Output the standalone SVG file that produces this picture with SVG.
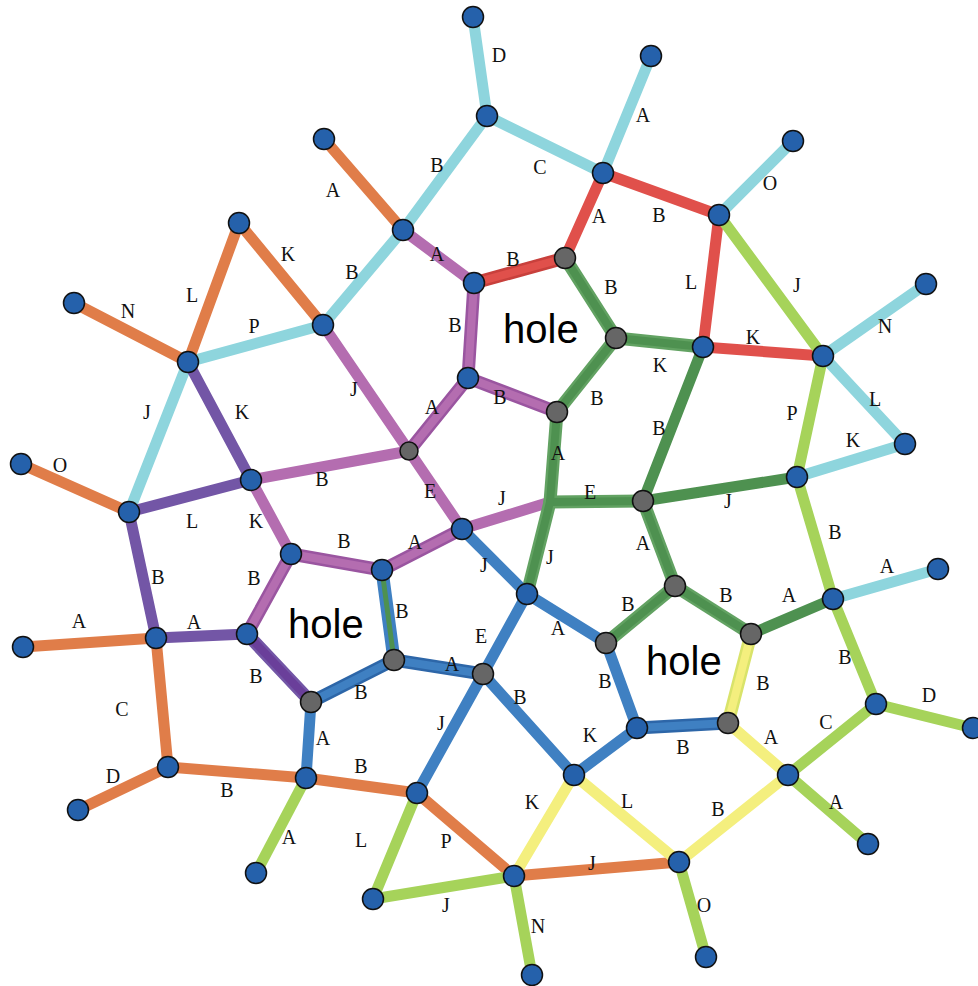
<svg xmlns="http://www.w3.org/2000/svg" width="978" height="986" viewBox="0 0 978 986">
<style>
  .e { fill: none; stroke-width: 11; stroke-linecap: round; stroke-linejoin: round; }
  .cy { stroke: #8ed5dd; }
  .or { stroke: #e07d49; }
  .rd { stroke: #e0504b; }
  .pk { stroke: #b46db0; }
  .dp { stroke: #7356a6; }
  .gd { stroke: #4e9150; }
  .gl { stroke: #a6d35a; }
  .ye { stroke: #f4ef7e; }
  .bl { stroke: #3f80c2; }
  .rim { stroke-width: 13; }
  .core { stroke-width: 8; }
  .n { fill: #2561ab; stroke: #111; stroke-width: 1.5; }
  .g { fill: #666; stroke: #111; stroke-width: 1.5; }
  .lb { font-family: "Liberation Serif", "Times New Roman", serif; font-size: 20px; fill: #111; text-anchor: middle; }
  .hole { font-family: "Liberation Sans", Arial, sans-serif; font-size: 40px; fill: #000; }
</style>

<g id="connectors">
  <!-- cyan -->
  <line class="e cy" x1="473" y1="17" x2="487" y2="116"/>
  <line class="e cy" x1="487" y1="116" x2="603" y2="173"/>
  <line class="e cy" x1="487" y1="116" x2="403" y2="230"/>
  <line class="e cy" x1="603" y1="173" x2="651" y2="56"/>
  <line class="e cy" x1="403" y1="230" x2="323" y2="325"/>
  <line class="e cy" x1="323" y1="325" x2="188" y2="362"/>
  <line class="e cy" x1="188" y1="362" x2="129" y2="512"/>
  <line class="e cy" x1="719" y1="215" x2="793" y2="141"/>
  <line class="e cy" x1="823" y1="356" x2="926" y2="284"/>
  <line class="e cy" x1="823" y1="356" x2="905" y2="444"/>
  <line class="e cy" x1="797" y1="477" x2="905" y2="444"/>
  <line class="e cy" x1="833" y1="599" x2="938" y2="569"/>

  <!-- orange -->
  <line class="e or" x1="324" y1="139" x2="403" y2="230"/>
  <line class="e or" x1="239" y1="223" x2="323" y2="325"/>
  <line class="e or" x1="239" y1="223" x2="188" y2="362"/>
  <line class="e or" x1="74" y1="303" x2="188" y2="362"/>
  <line class="e or" x1="21" y1="464" x2="129" y2="512"/>
  <line class="e or" x1="23" y1="647" x2="156" y2="638"/>
  <line class="e or" x1="156" y1="638" x2="168" y2="767"/>
  <line class="e or" x1="168" y1="767" x2="78" y2="810"/>
  <line class="e or" x1="168" y1="767" x2="306" y2="778"/>
  <line class="e or" x1="306" y1="778" x2="417" y2="793"/>
  <line class="e or" x1="417" y1="793" x2="514" y2="876"/>
  <line class="e or" x1="514" y1="876" x2="679" y2="862"/>

  <!-- red -->
  <line class="e rd" x1="603" y1="173" x2="565" y2="258"/>
  <line class="e rd" x1="603" y1="173" x2="719" y2="215"/>
  <line class="e rim" x1="474" y1="283" x2="565" y2="258" style="stroke:#c8403c"/>
  <line class="e rd core" x1="474" y1="283" x2="565" y2="258"/>
  <line class="e rd" x1="719" y1="215" x2="703" y2="347"/>
  <line class="e rd" x1="703" y1="347" x2="823" y2="356"/>

  <!-- light purple -->
  <line class="e pk" x1="403" y1="230" x2="474" y2="283"/>
  <line class="e pk" x1="323" y1="325" x2="409" y2="451"/>
  <line class="e pk" x1="409" y1="451" x2="251" y2="480"/>
  <line class="e pk" x1="409" y1="451" x2="462" y2="529"/>
  <line class="e pk" x1="462" y1="529" x2="550" y2="502"/>
  <line class="e pk" x1="251" y1="480" x2="291" y2="554"/>
  <g style="stroke:#9a55a0">
    <line class="e rim" x1="474" y1="283" x2="468" y2="378"/>
    <line class="e rim" x1="468" y1="378" x2="557" y2="412"/>
    <line class="e rim" x1="468" y1="378" x2="409" y2="451"/>
    <line class="e rim" x1="291" y1="554" x2="382" y2="570"/>
    <line class="e rim" x1="382" y1="570" x2="462" y2="529"/>
    <line class="e rim" x1="291" y1="554" x2="247" y2="634"/>
  </g>
  <line class="e pk core" x1="474" y1="283" x2="468" y2="378"/>
  <line class="e pk core" x1="468" y1="378" x2="557" y2="412"/>
  <line class="e pk core" x1="468" y1="378" x2="409" y2="451"/>
  <line class="e pk core" x1="291" y1="554" x2="382" y2="570"/>
  <line class="e pk core" x1="382" y1="570" x2="462" y2="529"/>
  <line class="e pk core" x1="291" y1="554" x2="247" y2="634"/>

  <!-- dark purple -->
  <line class="e dp" x1="188" y1="362" x2="251" y2="480"/>
  <line class="e dp" x1="129" y1="512" x2="251" y2="480"/>
  <line class="e dp" x1="129" y1="512" x2="156" y2="638"/>
  <line class="e dp" x1="156" y1="638" x2="247" y2="634"/>
  <line class="e dp rim" x1="247" y1="634" x2="311" y2="702"/>
  <line class="e core" x1="247" y1="634" x2="311" y2="702" style="stroke:#6a3f9a"/>

  <!-- dark green -->
  <g style="stroke:#62a262">
    <line class="e rim" x1="565" y1="258" x2="616" y2="338"/>
    <line class="e rim" x1="616" y1="338" x2="703" y2="347"/>
    <line class="e rim" x1="616" y1="338" x2="557" y2="412"/>
    <line class="e rim" x1="557" y1="412" x2="550" y2="502"/>
    <line class="e rim" x1="550" y1="502" x2="643" y2="501"/>
    <line class="e rim" x1="550" y1="502" x2="527" y2="594"/>
    <line class="e rim" x1="643" y1="501" x2="675" y2="586"/>
    <line class="e rim" x1="675" y1="586" x2="606" y2="643"/>
    <line class="e rim" x1="675" y1="586" x2="751" y2="634"/>
  </g>
  <line class="e gd core" x1="565" y1="258" x2="616" y2="338"/>
  <line class="e gd core" x1="616" y1="338" x2="703" y2="347"/>
  <line class="e gd core" x1="616" y1="338" x2="557" y2="412"/>
  <line class="e gd core" x1="557" y1="412" x2="550" y2="502"/>
  <line class="e gd core" x1="550" y1="502" x2="643" y2="501"/>
  <line class="e gd core" x1="550" y1="502" x2="527" y2="594"/>
  <line class="e gd core" x1="643" y1="501" x2="675" y2="586"/>
  <line class="e gd core" x1="675" y1="586" x2="606" y2="643"/>
  <line class="e gd core" x1="675" y1="586" x2="751" y2="634"/>
  <line class="e gd" x1="703" y1="347" x2="643" y2="501"/>
  <line class="e gd" x1="643" y1="501" x2="797" y2="477"/>
  <line class="e gd" x1="751" y1="634" x2="833" y2="599"/>
  <line class="e bl rim" x1="382" y1="570" x2="394" y2="660"/>
  <line class="e gd" x1="382" y1="570" x2="394" y2="660" style="stroke-width:5"/>

  <!-- light green -->
  <line class="e gl" x1="719" y1="215" x2="823" y2="356"/>
  <line class="e gl" x1="823" y1="356" x2="797" y2="477"/>
  <line class="e gl" x1="797" y1="477" x2="833" y2="599"/>
  <line class="e gl" x1="833" y1="599" x2="876" y2="704"/>
  <line class="e gl" x1="876" y1="704" x2="973" y2="728"/>
  <line class="e gl" x1="876" y1="704" x2="788" y2="775"/>
  <line class="e gl" x1="788" y1="775" x2="868" y2="844"/>
  <line class="e gl" x1="306" y1="778" x2="256" y2="873"/>
  <line class="e gl" x1="417" y1="793" x2="373" y2="899"/>
  <line class="e gl" x1="373" y1="899" x2="514" y2="876"/>
  <line class="e gl" x1="514" y1="876" x2="532" y2="975"/>
  <line class="e gl" x1="679" y1="862" x2="706" y2="957"/>

  <!-- yellow -->
  <line class="e rim" x1="751" y1="634" x2="728" y2="723" style="stroke:#d9e36a"/>
  <line class="e ye core" x1="751" y1="634" x2="728" y2="723"/>
  <line class="e ye" x1="728" y1="723" x2="788" y2="775"/>
  <line class="e ye" x1="788" y1="775" x2="679" y2="862"/>
  <line class="e ye" x1="574" y1="775" x2="679" y2="862"/>
  <line class="e ye" x1="574" y1="775" x2="514" y2="876"/>

  <!-- blue -->
  <line class="e bl" x1="462" y1="529" x2="527" y2="594"/>
  <line class="e bl" x1="527" y1="594" x2="606" y2="643"/>
  <line class="e bl" x1="606" y1="643" x2="637" y2="728"/>
  <line class="e bl" x1="527" y1="594" x2="483" y2="674"/>
  <line class="e bl" x1="311" y1="702" x2="306" y2="778"/>
  <line class="e bl" x1="483" y1="674" x2="417" y2="793"/>
  <line class="e bl" x1="483" y1="674" x2="574" y2="775"/>
  <line class="e bl" x1="574" y1="775" x2="637" y2="728"/>
  <g style="stroke:#2d66a8">
    <line class="e rim" x1="637" y1="728" x2="728" y2="723"/>
    <line class="e rim" x1="394" y1="660" x2="483" y2="674"/>
    <line class="e rim" x1="311" y1="702" x2="394" y2="660"/>
  </g>
  <line class="e bl core" x1="637" y1="728" x2="728" y2="723"/>
  <line class="e bl core" x1="394" y1="660" x2="483" y2="674"/>
  <line class="e bl core" x1="311" y1="702" x2="394" y2="660"/>
</g>

<g id="edge-labels">
  <text class="lb" x="499" y="62">D</text>
  <text class="lb" x="540" y="174">C</text>
  <text class="lb" x="437" y="172">B</text>
  <text class="lb" x="643" y="122">A</text>
  <text class="lb" x="352" y="279">B</text>
  <text class="lb" x="254" y="333">P</text>
  <text class="lb" x="147" y="419">J</text>
  <text class="lb" x="770" y="190">O</text>
  <text class="lb" x="885" y="333">N</text>
  <text class="lb" x="875" y="406">L</text>
  <text class="lb" x="853" y="447">K</text>
  <text class="lb" x="887" y="573">A</text>

  <text class="lb" x="333" y="197">A</text>
  <text class="lb" x="288" y="261">K</text>
  <text class="lb" x="192" y="302">L</text>
  <text class="lb" x="128" y="318">N</text>
  <text class="lb" x="60" y="472">O</text>
  <text class="lb" x="79" y="628">A</text>
  <text class="lb" x="122" y="716">C</text>
  <text class="lb" x="113" y="783">D</text>
  <text class="lb" x="227" y="797">B</text>
  <text class="lb" x="361" y="773">B</text>
  <text class="lb" x="446" y="848">P</text>
  <text class="lb" x="592" y="870">J</text>

  <text class="lb" x="599" y="223">A</text>
  <text class="lb" x="659" y="222">B</text>
  <text class="lb" x="513" y="266">B</text>
  <text class="lb" x="691" y="289">L</text>
  <text class="lb" x="753" y="344">K</text>

  <text class="lb" x="437" y="261">A</text>
  <text class="lb" x="455" y="332">B</text>
  <text class="lb" x="500" y="404">B</text>
  <text class="lb" x="432" y="414">A</text>
  <text class="lb" x="354" y="396">J</text>
  <text class="lb" x="322" y="486">B</text>
  <text class="lb" x="430" y="498">E</text>
  <text class="lb" x="502" y="505">J</text>
  <text class="lb" x="256" y="528">K</text>
  <text class="lb" x="344" y="548">B</text>
  <text class="lb" x="415" y="549">A</text>
  <text class="lb" x="254" y="585">B</text>

  <text class="lb" x="242" y="419">K</text>
  <text class="lb" x="192" y="528">L</text>
  <text class="lb" x="158" y="584">B</text>
  <text class="lb" x="194" y="629">A</text>
  <text class="lb" x="256" y="683">B</text>

  <text class="lb" x="611" y="294">B</text>
  <text class="lb" x="660" y="372">K</text>
  <text class="lb" x="597" y="405">B</text>
  <text class="lb" x="558" y="460">A</text>
  <text class="lb" x="590" y="499">E</text>
  <text class="lb" x="550" y="564">J</text>
  <text class="lb" x="659" y="435">B</text>
  <text class="lb" x="728" y="508">J</text>
  <text class="lb" x="643" y="550">A</text>
  <text class="lb" x="628" y="611">B</text>
  <text class="lb" x="726" y="602">B</text>
  <text class="lb" x="789" y="602">A</text>
  <text class="lb" x="402" y="618">B</text>

  <text class="lb" x="797" y="292">J</text>
  <text class="lb" x="792" y="420">P</text>
  <text class="lb" x="835" y="539">B</text>
  <text class="lb" x="845" y="664">B</text>
  <text class="lb" x="929" y="702">D</text>
  <text class="lb" x="826" y="729">C</text>
  <text class="lb" x="836" y="809">A</text>
  <text class="lb" x="289" y="844">A</text>
  <text class="lb" x="361" y="847">L</text>
  <text class="lb" x="446" y="912">J</text>
  <text class="lb" x="538" y="933">N</text>
  <text class="lb" x="704" y="912">O</text>

  <text class="lb" x="763" y="690">B</text>
  <text class="lb" x="771" y="744">A</text>
  <text class="lb" x="718" y="816">B</text>
  <text class="lb" x="627" y="808">L</text>
  <text class="lb" x="532" y="809">K</text>

  <text class="lb" x="484" y="572">J</text>
  <text class="lb" x="558" y="635">A</text>
  <text class="lb" x="605" y="688">B</text>
  <text class="lb" x="683" y="754">B</text>
  <text class="lb" x="481" y="643">E</text>
  <text class="lb" x="452" y="671">A</text>
  <text class="lb" x="361" y="699">B</text>
  <text class="lb" x="323" y="745">A</text>
  <text class="lb" x="441" y="730">J</text>
  <text class="lb" x="520" y="704">B</text>
  <text class="lb" x="590" y="742">K</text>
</g>

<g id="hole-labels">
  <text class="hole" x="503" y="343">hole</text>
  <text class="hole" x="288" y="638">hole</text>
  <text class="hole" x="646" y="675">hole</text>
</g>

<g id="nodes">
  <circle id="v1" class="n" cx="473" cy="17" r="10.5"/>
  <circle id="v2" class="n" cx="487" cy="116" r="10.5"/>
  <circle id="v3" class="n" cx="651" cy="56" r="10.5"/>
  <circle id="v4" class="n" cx="603" cy="173" r="10.5"/>
  <circle id="v5" class="n" cx="793" cy="141" r="10.5"/>
  <circle id="v6" class="n" cx="719" cy="215" r="10.5"/>
  <circle id="v7" class="n" cx="324" cy="139" r="10.5"/>
  <circle id="v8" class="n" cx="403" cy="230" r="10.5"/>
  <circle id="v9" class="n" cx="239" cy="223" r="10.5"/>
  <circle id="v10" class="n" cx="74" cy="303" r="10.5"/>
  <circle id="v11" class="n" cx="188" cy="362" r="10.5"/>
  <circle id="v12" class="n" cx="323" cy="325" r="10.5"/>
  <circle id="v13" class="n" cx="474" cy="283" r="10.5"/>
  <circle id="v14" class="g" cx="565" cy="258" r="10.5"/>
  <circle id="v15" class="g" cx="616" cy="338" r="10.5"/>
  <circle id="v16" class="n" cx="703" cy="347" r="10.5"/>
  <circle id="v17" class="n" cx="823" cy="356" r="10.5"/>
  <circle id="v18" class="n" cx="926" cy="284" r="10.5"/>
  <circle id="v19" class="n" cx="905" cy="444" r="10.5"/>
  <circle id="v20" class="n" cx="797" cy="477" r="10.5"/>
  <circle id="v21" class="n" cx="468" cy="378" r="10.5"/>
  <circle id="v22" class="g" cx="557" cy="412" r="10.5"/>
  <circle id="v23" class="g" cx="409" cy="451" r="9"/>
  <circle id="v24" class="n" cx="251" cy="480" r="10.5"/>
  <circle id="v25" class="n" cx="21" cy="464" r="10.5"/>
  <circle id="v26" class="n" cx="129" cy="512" r="10.5"/>
  <circle id="v27" class="n" cx="462" cy="529" r="10.5"/>
  <circle id="v28" class="g" cx="643" cy="501" r="10.5"/>
  <circle id="v29" class="n" cx="291" cy="554" r="10.5"/>
  <circle id="v30" class="n" cx="382" cy="570" r="10.5"/>
  <circle id="v31" class="n" cx="527" cy="594" r="10.5"/>
  <circle id="v32" class="g" cx="675" cy="586" r="10.5"/>
  <circle id="v33" class="g" cx="751" cy="634" r="10.5"/>
  <circle id="v34" class="n" cx="833" cy="599" r="10.5"/>
  <circle id="v35" class="n" cx="938" cy="569" r="10.5"/>
  <circle id="v36" class="n" cx="156" cy="638" r="10.5"/>
  <circle id="v37" class="n" cx="23" cy="647" r="10.5"/>
  <circle id="v38" class="n" cx="247" cy="634" r="10.5"/>
  <circle id="v39" class="g" cx="606" cy="643" r="10.5"/>
  <circle id="v40" class="g" cx="394" cy="660" r="10.5"/>
  <circle id="v41" class="g" cx="483" cy="674" r="10.5"/>
  <circle id="v42" class="g" cx="311" cy="702" r="10.5"/>
  <circle id="v43" class="n" cx="876" cy="704" r="10.5"/>
  <circle id="v44" class="n" cx="973" cy="728" r="10.5"/>
  <circle id="v45" class="n" cx="637" cy="728" r="10.5"/>
  <circle id="v46" class="g" cx="728" cy="723" r="10.5"/>
  <circle id="v47" class="n" cx="168" cy="767" r="10.5"/>
  <circle id="v48" class="n" cx="306" cy="778" r="10.5"/>
  <circle id="v49" class="n" cx="574" cy="775" r="10.5"/>
  <circle id="v50" class="n" cx="788" cy="775" r="10.5"/>
  <circle id="v51" class="n" cx="78" cy="810" r="10.5"/>
  <circle id="v52" class="n" cx="417" cy="793" r="10.5"/>
  <circle id="v53" class="n" cx="868" cy="844" r="10.5"/>
  <circle id="v54" class="n" cx="256" cy="873" r="10.5"/>
  <circle id="v55" class="n" cx="514" cy="876" r="10.5"/>
  <circle id="v56" class="n" cx="679" cy="862" r="10.5"/>
  <circle id="v57" class="n" cx="373" cy="899" r="10.5"/>
  <circle id="v58" class="n" cx="532" cy="975" r="10.5"/>
  <circle id="v59" class="n" cx="706" cy="957" r="10.5"/>
</g>
</svg>
